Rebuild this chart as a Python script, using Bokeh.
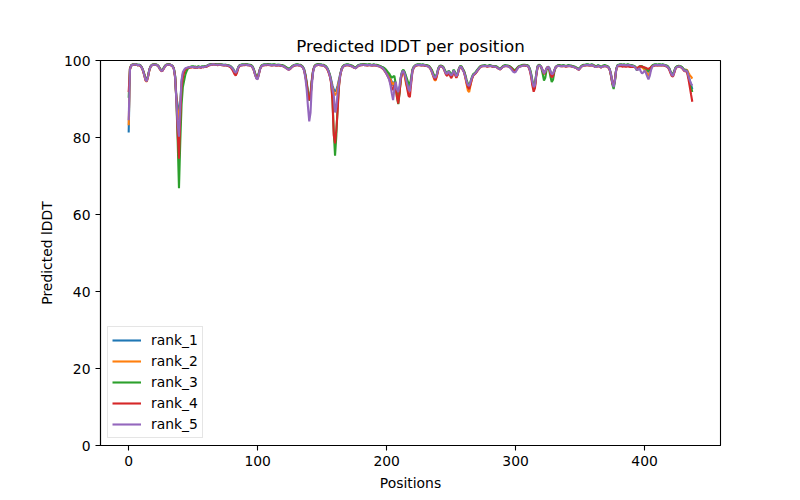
from bokeh.plotting import figure
from bokeh.models import Range1d, FixedTicker
from bokeh.embed import file_html
from bokeh.resources import INLINE

title_text = "Predicted lDDT per position"
x_label = "Positions"
y_label = "Predicted lDDT"
series_names = ["rank_1", "rank_2", "rank_3", "rank_4", "rank_5"]
colors = ["#1f77b4", "#ff7f0e", "#2ca02c", "#d62728", "#9467bd"]
x_ticks = [0, 100, 200, 300, 400]
y_ticks = [0, 20, 40, 60, 80, 100]

rank_1 = [
    81.3, 97.8, 98.7, 98.9, 98.9, 99.0, 98.9, 98.8, 98.9, 98.7,
    98.3, 97.6, 96.5, 95.2, 94.8, 96.0, 97.6, 98.5, 98.8, 98.9,
    99.0, 98.9, 98.8, 98.6, 98.0, 97.5, 97.4, 97.9, 98.5, 98.8,
    98.9, 99.0, 98.9, 98.8, 98.6, 98.0, 96.0, 90.5, 88.5, 86.0,
    89.0, 94.5, 96.5, 97.2, 97.8, 98.0, 98.1, 98.2, 98.3, 98.3,
    98.4, 98.2, 98.3, 98.1, 98.4, 98.3, 98.2, 98.4, 98.3, 98.5,
    98.4, 98.6, 98.8, 98.9, 99.0, 99.0, 99.1, 99.0, 99.0, 98.9,
    99.0, 99.0, 98.9, 98.9, 98.8, 98.9, 98.8, 98.7, 98.6, 98.5,
    98.2, 97.8, 97.2, 96.8, 97.4, 98.3, 98.7, 98.8, 98.9, 98.9,
    98.9, 99.0, 98.9, 98.9, 98.8, 98.7, 98.4, 97.7, 96.6, 95.6,
    95.4, 96.8, 98.0, 98.6, 98.8, 98.9, 98.9, 98.9, 99.0, 98.9,
    98.9, 98.8, 98.9, 98.9, 98.8, 98.8, 98.9, 98.8, 98.7, 98.7,
    98.6, 98.4, 98.2, 98.0, 97.8, 97.9, 98.2, 98.5, 98.7, 98.8,
    98.9, 98.9, 98.8, 98.8, 98.6, 98.4, 97.8, 96.5, 94.5, 92.0,
    90.5, 91.5, 95.0, 97.5, 98.5, 98.8, 98.9, 99.0, 98.9, 98.9,
    98.8, 98.8, 98.6, 98.4, 98.0, 97.2, 96.3, 95.0, 93.5, 92.5,
    92.0, 92.3, 93.5, 95.0, 96.5, 97.8, 98.4, 98.7, 98.8, 98.9,
    98.9, 98.8, 98.7, 98.6, 98.4, 98.2, 98.1, 98.4, 98.7, 98.8,
    98.9, 98.9, 99.0, 98.9, 98.9, 98.8, 98.9, 98.9, 98.8, 98.8,
    98.9, 98.8, 98.8, 98.7, 98.6, 98.5, 98.3, 98.2, 97.9, 97.5,
    97.0, 96.5, 96.0, 95.2, 94.5, 93.5, 94.5, 94.2, 91.5, 90.5,
    92.5, 95.5, 97.0, 97.4, 96.8, 95.5, 94.2, 93.0, 92.8, 95.0,
    97.5, 98.3, 98.6, 98.8, 98.9, 98.9, 98.9, 98.8, 98.9, 98.8,
    98.7, 98.7, 98.6, 98.4, 98.0, 97.4, 96.5, 95.5, 95.2, 96.3,
    97.8, 98.5, 98.6, 98.5, 98.2, 97.5, 96.8, 96.6, 97.2, 96.8,
    96.0, 96.5, 97.5, 96.8, 95.8, 96.5, 97.8, 98.5, 98.4, 97.8,
    97.2, 96.0, 94.5, 93.0, 92.8, 94.0, 95.3, 96.2, 96.5, 96.8,
    97.3, 97.8, 98.2, 98.5, 98.6, 98.6, 98.7, 98.6, 98.5, 98.6,
    98.7, 98.6, 98.5, 98.4, 98.5, 98.4, 98.2, 97.9, 97.8, 98.1,
    98.4, 98.6, 98.7, 98.6, 98.6, 98.5, 98.3, 98.0, 97.6, 97.3,
    97.4, 97.9, 98.3, 98.5, 98.6, 98.7, 98.8, 98.8, 98.7, 98.7,
    98.5, 97.8, 96.5, 94.5, 92.8, 93.5, 96.5, 98.4, 98.8, 98.7,
    98.3, 97.5, 96.8, 97.2, 98.0, 98.4, 98.2, 97.3, 96.3, 96.5,
    97.5, 98.3, 98.6, 98.7, 98.7, 98.6, 98.6, 98.7, 98.6, 98.5,
    98.6, 98.7, 98.6, 98.6, 98.5, 98.4, 98.3, 98.1, 97.9, 97.8,
    98.1, 98.5, 98.7, 98.8, 98.8, 98.9, 98.9, 98.8, 98.8, 98.9,
    98.8, 98.6, 98.4, 98.5, 98.7, 98.5, 98.3, 98.4, 98.6, 98.7,
    98.6, 98.5, 98.3, 97.8, 96.5, 94.5, 93.3, 95.0, 97.8, 98.7,
    98.8, 98.9, 98.9, 98.8, 98.9, 98.8, 98.8, 98.9, 98.8, 98.7,
    98.7, 98.6, 98.5, 98.2, 97.4, 97.9, 98.4, 98.5, 98.4, 98.2,
    98.0, 97.8, 97.3, 97.0, 97.5, 98.2, 98.6, 98.8, 98.9, 98.9,
    98.8, 98.9, 98.9, 98.8, 98.9, 98.8, 98.7, 98.6, 98.4, 98.0,
    97.2, 96.5, 96.3, 97.2, 98.1, 98.4, 98.5, 98.5, 98.4, 98.2,
    97.8, 97.4, 97.5, 97.3, 96.0, 94.8, 93.8, 92.5,
]

rank_2 = [
    83.2, 97.6, 98.6, 98.9, 98.9, 98.9, 98.9, 98.8, 98.8, 98.7,
    98.2, 97.4, 96.2, 94.8, 94.5, 95.7, 97.4, 98.4, 98.8, 98.9,
    98.9, 98.9, 98.8, 98.5, 97.9, 97.4, 97.3, 97.8, 98.4, 98.8,
    98.9, 98.9, 98.9, 98.8, 98.5, 97.8, 95.5, 90.0, 87.0, 84.5,
    88.0, 94.0, 96.2, 97.0, 97.6, 97.9, 98.1, 98.2, 98.2, 98.3,
    98.3, 98.2, 98.2, 98.1, 98.3, 98.3, 98.2, 98.3, 98.3, 98.4,
    98.4, 98.6, 98.8, 98.9, 98.9, 99.0, 99.0, 99.0, 98.9, 98.9,
    98.9, 98.9, 98.9, 98.8, 98.8, 98.8, 98.8, 98.7, 98.6, 98.4,
    98.1, 97.6, 97.0, 96.6, 97.2, 98.2, 98.7, 98.8, 98.8, 98.9,
    98.9, 98.9, 98.9, 98.8, 98.8, 98.6, 98.3, 97.5, 96.4, 95.4,
    95.2, 96.6, 97.9, 98.5, 98.8, 98.8, 98.9, 98.9, 98.9, 98.9,
    98.8, 98.8, 98.8, 98.9, 98.8, 98.7, 98.8, 98.8, 98.7, 98.6,
    98.5, 98.3, 98.1, 97.9, 97.7, 97.8, 98.1, 98.4, 98.7, 98.8,
    98.8, 98.9, 98.8, 98.7, 98.5, 98.2, 97.5, 96.0, 94.0, 91.5,
    90.0, 91.0, 94.5, 97.2, 98.4, 98.8, 98.8, 98.9, 98.9, 98.8,
    98.8, 98.7, 98.5, 98.3, 97.8, 97.0, 96.0, 94.6, 93.0, 91.8,
    91.0, 91.5, 93.0, 94.6, 96.2, 97.6, 98.3, 98.6, 98.8, 98.8,
    98.8, 98.8, 98.6, 98.5, 98.3, 98.1, 98.0, 98.3, 98.6, 98.8,
    98.8, 98.9, 98.9, 98.9, 98.8, 98.8, 98.8, 98.9, 98.8, 98.7,
    98.8, 98.8, 98.7, 98.6, 98.5, 98.4, 98.2, 98.0, 97.7, 97.3,
    96.8, 96.2, 95.8, 95.0, 94.2, 93.8, 94.3, 93.8, 91.0, 90.0,
    92.0, 95.2, 96.8, 97.2, 96.0, 94.0, 93.0, 92.0, 92.5, 94.8,
    97.4, 98.2, 98.6, 98.8, 98.8, 98.9, 98.8, 98.8, 98.8, 98.8,
    98.7, 98.6, 98.5, 98.3, 97.8, 97.0, 96.0, 95.0, 94.8, 96.0,
    97.6, 98.4, 98.5, 98.4, 98.1, 97.4, 96.6, 96.4, 97.0, 96.5,
    95.8, 96.3, 97.3, 96.6, 95.6, 96.3, 97.6, 98.4, 98.3, 97.6,
    97.0, 95.5, 93.8, 92.2, 91.8, 93.5, 95.0, 96.0, 96.4, 96.7,
    97.2, 97.7, 98.1, 98.4, 98.5, 98.6, 98.6, 98.6, 98.5, 98.5,
    98.6, 98.6, 98.5, 98.4, 98.4, 98.3, 98.1, 97.8, 97.7, 98.0,
    98.3, 98.5, 98.6, 98.6, 98.5, 98.4, 98.2, 97.9, 97.5, 97.2,
    97.3, 97.8, 98.2, 98.4, 98.6, 98.7, 98.7, 98.8, 98.7, 98.6,
    98.4, 97.6, 96.2, 94.2, 92.5, 93.2, 96.3, 98.3, 98.7, 98.6,
    98.2, 97.3, 96.5, 97.0, 97.9, 98.3, 98.0, 97.0, 96.0, 96.2,
    97.3, 98.2, 98.5, 98.6, 98.6, 98.6, 98.5, 98.6, 98.6, 98.5,
    98.5, 98.6, 98.6, 98.5, 98.4, 98.3, 98.2, 98.0, 97.8, 97.6,
    98.0, 98.4, 98.6, 98.7, 98.8, 98.8, 98.8, 98.8, 98.7, 98.8,
    98.7, 98.5, 98.3, 98.4, 98.6, 98.4, 98.2, 98.3, 98.5, 98.6,
    98.5, 98.4, 98.2, 97.6, 96.2, 94.2, 93.2, 94.8, 97.6, 98.6,
    98.8, 98.8, 98.9, 98.8, 98.8, 98.8, 98.7, 98.8, 98.8, 98.7,
    98.6, 98.6, 98.4, 98.1, 97.6, 97.8, 98.3, 98.4, 98.2, 97.9,
    97.6, 97.3, 96.6, 96.0, 96.8, 97.9, 98.5, 98.7, 98.8, 98.8,
    98.8, 98.8, 98.8, 98.8, 98.8, 98.8, 98.7, 98.5, 98.3, 97.9,
    97.0, 96.3, 96.1, 97.0, 98.0, 98.3, 98.4, 98.5, 98.3, 98.1,
    97.8, 97.5, 97.6, 97.5, 96.8, 96.2, 95.8, 95.3,
]

rank_3 = [
    90.3, 98.0, 98.8, 99.0, 99.0, 99.0, 99.0, 98.9, 98.9, 98.8,
    98.3, 97.6, 96.6, 95.4, 95.0, 96.0, 97.6, 98.5, 98.9, 99.0,
    99.0, 99.0, 98.9, 98.6, 98.1, 97.6, 97.5, 98.0, 98.6, 98.9,
    99.0, 99.0, 99.0, 98.8, 98.6, 98.0, 96.0, 89.5, 79.0, 66.8,
    79.0, 88.5, 93.1, 94.8, 96.4, 97.3, 97.9, 98.2, 98.4, 98.5,
    98.5, 98.4, 98.4, 98.3, 98.5, 98.4, 98.3, 98.5, 98.4, 98.6,
    98.5, 98.7, 98.9, 99.0, 99.1, 99.1, 99.1, 99.1, 99.0, 99.0,
    99.0, 99.0, 99.0, 98.9, 98.9, 98.9, 98.8, 98.8, 98.7, 98.5,
    98.2, 97.8, 97.0, 96.5, 97.2, 98.3, 98.8, 98.9, 99.0, 99.0,
    99.0, 99.0, 99.0, 98.9, 98.9, 98.8, 98.5, 97.8, 96.7, 95.8,
    95.6, 96.9, 98.1, 98.7, 98.9, 99.0, 99.0, 99.0, 99.1, 99.0,
    99.0, 98.9, 99.0, 99.0, 98.9, 98.9, 98.9, 98.9, 98.8, 98.8,
    98.7, 98.5, 98.3, 98.1, 97.9, 98.0, 98.3, 98.6, 98.8, 98.9,
    99.0, 99.0, 98.9, 98.9, 98.7, 98.4, 97.7, 96.2, 94.0, 91.5,
    89.6, 90.5, 94.5, 97.3, 98.5, 98.9, 99.0, 99.1, 99.0, 99.0,
    98.9, 98.9, 98.7, 98.5, 98.0, 97.3, 96.3, 94.5, 90.0, 81.5,
    75.3, 80.5, 88.0, 93.5, 96.2, 97.8, 98.5, 98.8, 98.9, 99.0,
    99.0, 98.9, 98.8, 98.7, 98.5, 98.3, 98.2, 98.5, 98.8, 98.9,
    99.0, 99.0, 99.1, 99.0, 99.0, 98.9, 99.0, 99.0, 98.9, 98.9,
    99.0, 98.9, 98.9, 98.8, 98.7, 98.6, 98.4, 98.3, 98.1, 97.8,
    97.4, 97.0, 96.6, 96.0, 95.5, 95.8, 96.0, 94.0, 90.5, 88.7,
    91.5, 95.5, 97.2, 97.6, 97.0, 96.0, 95.0, 94.0, 93.6, 95.5,
    97.7, 98.4, 98.7, 98.9, 99.0, 99.0, 99.0, 98.9, 99.0, 98.9,
    98.8, 98.8, 98.7, 98.5, 98.1, 97.6, 96.8, 96.0, 95.8, 96.6,
    98.0, 98.6, 98.7, 98.6, 98.3, 97.6, 96.9, 96.7, 97.3, 97.0,
    96.3, 96.7, 97.6, 97.0, 96.0, 96.7, 97.9, 98.6, 98.5, 97.9,
    97.3, 96.3, 95.0, 94.0, 93.8, 94.5, 95.6, 96.4, 96.7, 97.0,
    97.5, 97.9, 98.3, 98.6, 98.7, 98.7, 98.8, 98.7, 98.6, 98.7,
    98.8, 98.7, 98.6, 98.5, 98.6, 98.5, 98.3, 98.0, 97.9, 98.2,
    98.5, 98.7, 98.8, 98.7, 98.7, 98.6, 98.4, 98.1, 97.8, 97.5,
    97.6, 98.0, 98.4, 98.6, 98.7, 98.8, 98.9, 98.9, 98.8, 98.8,
    98.6, 97.9, 96.6, 94.8, 93.2, 93.8, 96.6, 98.5, 98.9, 98.7,
    98.0, 96.5, 94.8, 95.5, 97.6, 98.2, 97.6, 95.8, 94.4, 95.0,
    97.0, 98.2, 98.6, 98.8, 98.8, 98.7, 98.7, 98.8, 98.7, 98.6,
    98.7, 98.8, 98.7, 98.7, 98.6, 98.5, 98.4, 98.2, 98.0, 97.9,
    98.2, 98.6, 98.8, 98.9, 98.9, 99.0, 99.0, 98.9, 98.9, 99.0,
    98.9, 98.7, 98.5, 98.6, 98.8, 98.6, 98.4, 98.5, 98.7, 98.8,
    98.7, 98.6, 98.3, 97.6, 96.0, 93.8, 92.6, 94.6, 97.8, 98.8,
    98.9, 99.0, 99.0, 98.9, 99.0, 98.9, 98.9, 99.0, 98.9, 98.8,
    98.8, 98.7, 98.6, 98.3, 97.8, 98.0, 98.5, 98.6, 98.5, 98.3,
    98.1, 97.9, 97.6, 97.3, 97.7, 98.3, 98.7, 98.9, 99.0, 99.0,
    98.9, 99.0, 99.0, 98.9, 99.0, 98.9, 98.8, 98.7, 98.5, 98.1,
    97.3, 96.6, 96.4, 97.3, 98.2, 98.5, 98.6, 98.6, 98.5, 98.3,
    97.9, 97.5, 97.6, 97.2, 95.8, 94.4, 93.0, 91.8,
]

rank_4 = [
    91.8, 97.9, 98.7, 98.9, 98.9, 98.9, 98.9, 98.8, 98.8, 98.6,
    98.2, 97.5, 96.4, 95.0, 94.6, 95.8, 97.5, 98.4, 98.8, 98.9,
    98.9, 98.9, 98.8, 98.5, 97.9, 97.4, 97.2, 97.8, 98.4, 98.8,
    98.9, 98.9, 98.9, 98.7, 98.5, 97.9, 95.8, 89.8, 81.0, 74.5,
    85.0, 93.0, 95.6, 97.0, 97.7, 98.0, 98.1, 98.2, 98.2, 98.2,
    98.3, 98.1, 98.2, 98.0, 98.3, 98.2, 98.1, 98.3, 98.2, 98.4,
    98.3, 98.5, 98.7, 98.8, 98.9, 98.9, 99.0, 98.9, 98.9, 98.8,
    98.9, 98.9, 98.8, 98.8, 98.7, 98.8, 98.7, 98.6, 98.4, 98.2,
    97.8, 97.2, 96.5, 96.1, 96.8, 98.0, 98.6, 98.7, 98.8, 98.8,
    98.8, 98.9, 98.8, 98.8, 98.7, 98.6, 98.2, 97.5, 96.4, 95.5,
    95.3, 96.6, 97.9, 98.5, 98.7, 98.8, 98.8, 98.8, 98.9, 98.8,
    98.8, 98.7, 98.8, 98.8, 98.7, 98.7, 98.8, 98.7, 98.6, 98.6,
    98.5, 98.3, 98.0, 97.8, 97.6, 97.7, 98.1, 98.4, 98.6, 98.7,
    98.8, 98.8, 98.7, 98.7, 98.5, 98.2, 97.5, 96.0, 93.8, 91.2,
    89.7, 90.6, 94.6, 97.3, 98.4, 98.7, 98.8, 98.9, 98.8, 98.8,
    98.7, 98.7, 98.5, 98.2, 97.7, 96.9, 95.8, 94.0, 89.5, 80.6,
    78.5, 82.0, 87.0, 93.0, 96.0, 97.6, 98.3, 98.6, 98.7, 98.8,
    98.8, 98.7, 98.6, 98.5, 98.3, 98.1, 98.0, 98.3, 98.6, 98.7,
    98.8, 98.8, 98.9, 98.8, 98.8, 98.7, 98.8, 98.8, 98.7, 98.7,
    98.8, 98.7, 98.7, 98.6, 98.5, 98.4, 98.1, 97.9, 97.5, 97.0,
    96.4, 95.8, 95.2, 94.0, 93.0, 92.3, 93.5, 93.5, 90.5, 88.8,
    91.5, 95.0, 96.8, 97.2, 96.3, 94.5, 92.5, 90.8, 90.5, 94.0,
    97.2, 98.1, 98.5, 98.7, 98.8, 98.8, 98.8, 98.7, 98.8, 98.7,
    98.6, 98.6, 98.5, 98.3, 97.9, 97.2, 96.2, 95.3, 95.0, 96.1,
    97.6, 98.4, 98.5, 98.4, 98.0, 97.2, 96.3, 96.0, 96.8, 96.2,
    95.4, 96.0, 97.2, 96.4, 95.5, 96.2, 97.6, 98.4, 98.3, 97.6,
    97.0, 95.8, 94.2, 93.0, 92.6, 93.8, 95.1, 96.0, 96.4, 96.7,
    97.1, 97.6, 98.0, 98.4, 98.5, 98.5, 98.6, 98.5, 98.4, 98.5,
    98.6, 98.5, 98.4, 98.3, 98.4, 98.3, 98.1, 97.8, 97.7, 98.0,
    98.3, 98.5, 98.6, 98.5, 98.5, 98.4, 98.2, 97.9, 97.5, 97.2,
    97.3, 97.8, 98.2, 98.4, 98.5, 98.6, 98.7, 98.7, 98.6, 98.6,
    98.3, 97.4, 95.8, 93.5, 91.9, 92.8, 96.0, 98.2, 98.7, 98.6,
    98.2, 97.3, 96.5, 97.0, 97.9, 98.3, 97.9, 96.6, 95.6, 96.0,
    97.3, 98.2, 98.5, 98.6, 98.6, 98.5, 98.5, 98.6, 98.5, 98.4,
    98.5, 98.6, 98.5, 98.5, 98.4, 98.3, 98.2, 98.0, 97.8, 97.6,
    98.0, 98.4, 98.6, 98.7, 98.7, 98.8, 98.8, 98.7, 98.7, 98.8,
    98.7, 98.5, 98.3, 98.4, 98.6, 98.4, 98.2, 98.3, 98.5, 98.6,
    98.5, 98.4, 98.1, 97.5, 96.0, 94.0, 93.6, 95.2, 97.6, 98.6,
    98.5, 98.5, 98.5, 98.4, 98.5, 98.4, 98.4, 98.5, 98.4, 98.3,
    98.4, 98.3, 98.3, 98.2, 98.0, 98.2, 98.4, 98.5, 98.4, 98.3,
    98.2, 98.1, 97.9, 97.8, 98.0, 98.3, 98.5, 98.6, 98.7, 98.7,
    98.7, 98.7, 98.7, 98.7, 98.7, 98.7, 98.6, 98.4, 98.2, 97.7,
    96.8, 96.0, 95.8, 96.8, 97.9, 98.3, 98.4, 98.4, 98.3, 98.0,
    97.6, 97.2, 97.3, 96.8, 95.2, 93.2, 91.2, 89.3,
]

rank_5 = [
    84.5, 97.7, 98.7, 98.9, 98.9, 99.0, 98.9, 98.8, 98.8, 98.7,
    98.2, 97.5, 96.3, 95.0, 94.6, 95.8, 97.5, 98.4, 98.8, 98.9,
    98.9, 98.9, 98.8, 98.5, 97.9, 97.4, 97.3, 97.8, 98.4, 98.8,
    98.9, 98.9, 98.9, 98.8, 98.5, 97.8, 95.6, 89.5, 83.5, 80.2,
    88.0, 95.0, 97.0, 97.6, 98.0, 98.1, 98.2, 98.3, 98.3, 98.3,
    98.3, 98.2, 98.3, 98.1, 98.3, 98.3, 98.2, 98.3, 98.3, 98.4,
    98.4, 98.6, 98.8, 98.9, 98.9, 99.0, 99.0, 98.9, 98.9, 98.9,
    98.9, 98.9, 98.9, 98.8, 98.8, 98.8, 98.7, 98.7, 98.6, 98.4,
    98.1, 97.7, 97.1, 96.8, 97.3, 98.2, 98.7, 98.8, 98.8, 98.9,
    98.9, 98.9, 98.8, 98.8, 98.7, 98.6, 98.3, 97.5, 96.3, 95.3,
    95.1, 96.5, 97.9, 98.5, 98.8, 98.8, 98.9, 98.9, 98.9, 98.9,
    98.8, 98.8, 98.8, 98.8, 98.8, 98.7, 98.8, 98.8, 98.7, 98.6,
    98.5, 98.3, 98.0, 97.8, 97.6, 97.8, 98.1, 98.4, 98.7, 98.8,
    98.8, 98.8, 98.8, 98.7, 98.5, 98.2, 97.4, 95.5, 92.5, 88.0,
    84.2, 86.5, 93.5, 97.0, 98.3, 98.7, 98.8, 98.9, 98.9, 98.8,
    98.8, 98.7, 98.5, 98.3, 97.9, 97.1, 96.0, 94.5, 92.5, 91.0,
    86.5, 88.0, 91.5, 94.0, 96.2, 97.6, 98.3, 98.6, 98.8, 98.8,
    98.8, 98.8, 98.6, 98.5, 98.3, 98.1, 98.0, 98.3, 98.6, 98.8,
    98.8, 98.9, 98.9, 98.8, 98.8, 98.8, 98.8, 98.8, 98.8, 98.7,
    98.8, 98.8, 98.7, 98.6, 98.5, 98.4, 98.2, 98.0, 97.6, 97.1,
    96.5, 95.8, 95.0, 93.5, 91.5, 89.7, 92.5, 94.5, 92.5, 91.8,
    93.5, 95.8, 97.0, 97.3, 96.5, 95.2, 93.8, 92.5, 92.0, 94.6,
    97.3, 98.2, 98.6, 98.8, 98.8, 98.9, 98.8, 98.8, 98.8, 98.8,
    98.7, 98.6, 98.5, 98.3, 97.8, 97.1, 96.2, 95.6, 95.6, 96.4,
    97.7, 98.4, 98.5, 98.4, 98.1, 97.3, 96.6, 96.6, 97.2, 96.6,
    96.1, 96.5, 97.4, 96.7, 95.9, 96.4, 97.7, 98.4, 98.3, 97.6,
    96.9, 95.8, 94.5, 93.6, 93.4, 94.3, 95.4, 96.1, 96.5, 96.8,
    97.2, 97.7, 98.1, 98.4, 98.5, 98.6, 98.6, 98.6, 98.5, 98.5,
    98.6, 98.6, 98.5, 98.4, 98.4, 98.3, 98.1, 97.8, 97.7, 98.0,
    98.3, 98.5, 98.6, 98.6, 98.5, 98.3, 98.0, 97.6, 97.1, 96.9,
    97.0, 97.6, 98.1, 98.4, 98.5, 98.6, 98.7, 98.7, 98.7, 98.6,
    98.4, 97.6, 96.2, 94.4, 93.1, 93.6, 96.3, 98.3, 98.7, 98.6,
    98.2, 97.4, 96.7, 97.1, 97.9, 98.3, 98.0, 97.1, 96.4, 96.6,
    97.4, 98.2, 98.5, 98.6, 98.6, 98.5, 98.5, 98.6, 98.6, 98.5,
    98.5, 98.6, 98.6, 98.5, 98.4, 98.3, 98.2, 98.0, 97.8, 97.6,
    98.0, 98.4, 98.6, 98.7, 98.8, 98.8, 98.8, 98.8, 98.7, 98.8,
    98.7, 98.5, 98.3, 98.4, 98.6, 98.4, 98.2, 98.3, 98.5, 98.6,
    98.5, 98.4, 98.2, 97.6, 96.2, 94.3, 93.1, 94.8, 97.6, 98.6,
    98.8, 98.8, 98.9, 98.8, 98.8, 98.8, 98.7, 98.8, 98.8, 98.7,
    98.6, 98.6, 98.4, 98.1, 97.6, 97.6, 98.0, 97.2, 96.6, 96.9,
    97.4, 96.8, 95.9, 95.1, 96.0, 97.5, 98.4, 98.7, 98.8, 98.8,
    98.8, 98.8, 98.8, 98.8, 98.8, 98.8, 98.7, 98.5, 98.3, 97.9,
    97.1, 96.3, 96.0, 97.0, 98.0, 98.3, 98.4, 98.5, 98.3, 98.1,
    97.7, 97.3, 97.4, 97.2, 96.0, 94.9, 94.0, 93.5,
]

all_series = [rank_1, rank_2, rank_3, rank_4, rank_5]

FONT = "DejaVu Sans"

p = figure(
    frame_width=620, frame_height=385,
    min_border_left=100, min_border_right=72,
    min_border_top=60, min_border_bottom=47,
    x_range=Range1d(-21.85, 458.85), y_range=Range1d(0, 100),
    output_backend="svg", toolbar_location=None,
    title=title_text,
)

for name, col, ys in zip(series_names, colors, all_series):
    xs = list(range(len(ys)))
    p.line(xs, ys, line_color=col, line_width=2.1, legend_label=name)

p.title.align = "center"
p.title.text_font = FONT
p.title.text_font_size = "16.7px"
p.title.text_font_style = "normal"
p.title.text_color = "black"

p.xgrid.visible = False
p.ygrid.visible = False
p.outline_line_color = "black"
p.outline_line_width = 1.1
p.background_fill_color = "white"
p.border_fill_color = "white"

p.xaxis.ticker = FixedTicker(ticks=x_ticks)
p.yaxis.ticker = FixedTicker(ticks=y_ticks)
for ax in (p.xaxis, p.yaxis):
    ax.axis_line_color = "black"
    ax.axis_line_width = 1.1
    ax.major_tick_line_color = "black"
    ax.major_tick_line_width = 1.1
    ax.major_tick_in = 0
    ax.major_tick_out = 5
    ax.minor_tick_line_color = None
    ax.major_label_text_font = FONT
    ax.major_label_text_font_size = "13.9px"
    ax.major_label_text_color = "black"
    ax.major_label_standoff = 5
    ax.axis_label_text_font = FONT
    ax.axis_label_text_font_size = "13.9px"
    ax.axis_label_text_font_style = "normal"
    ax.axis_label_text_color = "black"
    ax.axis_label_standoff = 6
p.xaxis.axis_label = x_label
p.yaxis.axis_label = y_label

lg = p.legend[0]
lg.location = "bottom_left"
lg.margin = 7
lg.padding = 4
lg.spacing = 3
lg.glyph_height = 18
lg.glyph_width = 29
lg.label_height = 18
lg.label_standoff = 10
lg.label_text_font = FONT
lg.label_text_font_size = "13.9px"
lg.label_text_color = "black"
lg.border_line_color = "#cccccc"
lg.border_line_width = 1
lg.background_fill_alpha = 0.8

open("out.html", "w").write(file_html(p, INLINE))
